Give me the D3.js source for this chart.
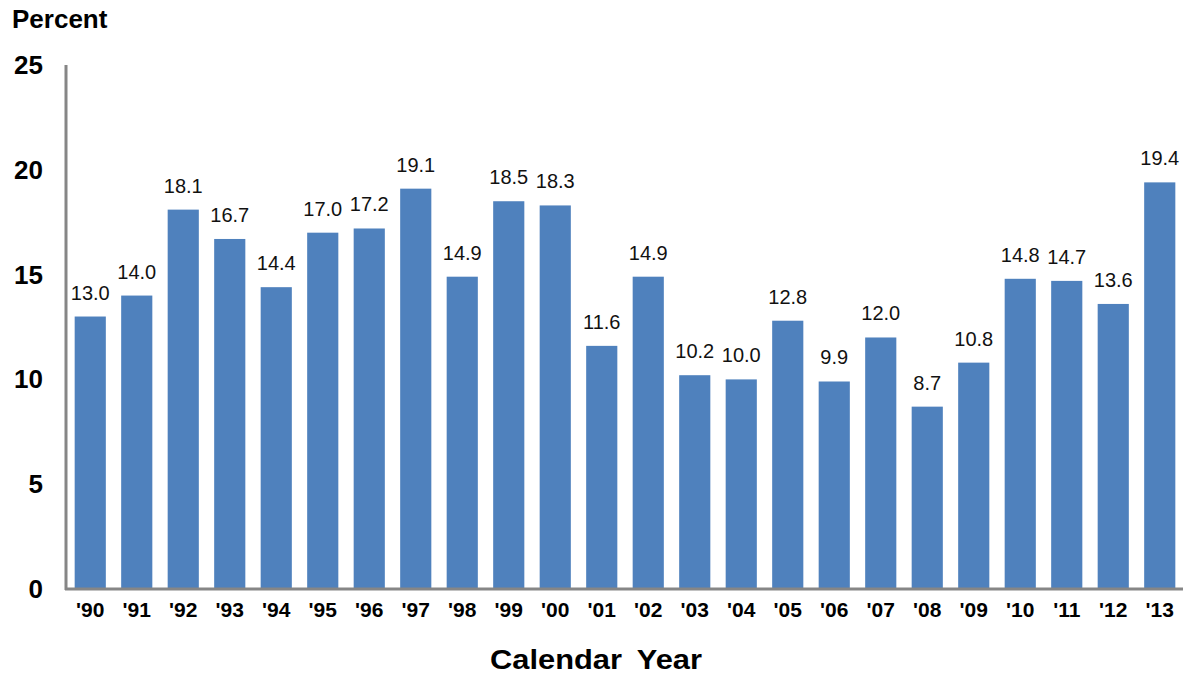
<!DOCTYPE html>
<html>
<head>
<meta charset="utf-8">
<script src="https://cdn.jsdelivr.net/npm/d3@7"></script>
<style>
  body { margin: 0; background: #fff; }
  svg { font-family: "Liberation Sans", Arial, sans-serif; }
</style>
</head>
<body>
<div id="viz"></div>
<script>
// chart data
const years = ["'90","'91","'92","'93","'94","'95","'96","'97","'98","'99","'00","'01",
               "'02","'03","'04","'05","'06","'07","'08","'09","'10","'11","'12","'13"];
const percents = [13.0, 14.0, 18.1, 16.7, 14.4, 17.0, 17.2, 19.1, 14.9, 18.5, 18.3, 11.6,
                  14.9, 10.2, 10.0, 12.8, 9.9, 12.0, 8.7, 10.8, 14.8, 14.7, 13.6, 19.4];
const yTicks = [0, 5, 10, 15, 20, 25];

const data = years.map((yr, i) => ({ yr, v: percents[i] }));

const W = 1186, H = 677;
const svg = d3.select("#viz")
    .append("svg")
    .attr("width", W)
    .attr("height", H);

const x = d3.scaleBand()
    .domain(years)
    .range([67, 1183])
    .paddingInner(0.33)
    .paddingOuter(0.165);

const y = d3.scaleLinear()
    .domain([0, 25])
    .range([589, 65]);

// bars
svg.selectAll("rect.bar")
    .data(data)
    .enter()
    .append("rect")
    .attr("class", "bar")
    .attr("x", d => x(d.yr))
    .attr("y", d => y(d.v))
    .attr("width", x.bandwidth())
    .attr("height", d => y(0) - y(d.v))
    .attr("fill", "#4f81bd");

// value labels
svg.selectAll("text.label")
    .data(data)
    .enter()
    .append("text")
    .attr("class", "label")
    .attr("x", d => x(d.yr) + x.bandwidth() / 2)
    .attr("y", d => y(d.v) - 17)
    .attr("text-anchor", "middle")
    .style("font-size", "20px")
    .style("fill", "#111")
    .text(d => d.v.toFixed(1));

// axes lines
svg.append("line")
    .attr("x1", 66).attr("x2", 66)
    .attr("y1", y(25)).attr("y2", y(0) + 1)
    .attr("stroke", "#868686").attr("stroke-width", 3);
svg.append("line")
    .attr("x1", 65).attr("x2", 1183)
    .attr("y1", y(0)).attr("y2", y(0))
    .attr("stroke", "#868686").attr("stroke-width", 3);

// y tick labels
svg.selectAll("text.ytick")
    .data(yTicks)
    .enter()
    .append("text")
    .attr("class", "ytick")
    .attr("x", 43)
    .attr("y", d => y(d) + 9)
    .attr("text-anchor", "end")
    .style("font-size", "26px")
    .style("font-weight", "bold")
    .text(d => d);

// x tick labels
svg.selectAll("text.xtick")
    .data(years)
    .enter()
    .append("text")
    .attr("class", "xtick")
    .attr("x", d => x(d) + x.bandwidth() / 2)
    .attr("y", 617)
    .attr("text-anchor", "middle")
    .style("font-size", "21px")
    .style("font-weight", "bold")
    .text(d => d);

// titles
svg.append("text")
    .attr("x", 12)
    .attr("y", 28)
    .style("font-size", "26px")
    .style("font-weight", "bold")
    .text("Percent");

svg.append("text")
    .attr("x", 490)
    .attr("y", 669)
    .attr("textLength", 212)
    .attr("lengthAdjust", "spacingAndGlyphs")
    .style("font-size", "27px")
    .style("font-weight", "bold")
    .style("word-spacing", "6px")
    .text("Calendar Year");
</script>
</body>
</html>
